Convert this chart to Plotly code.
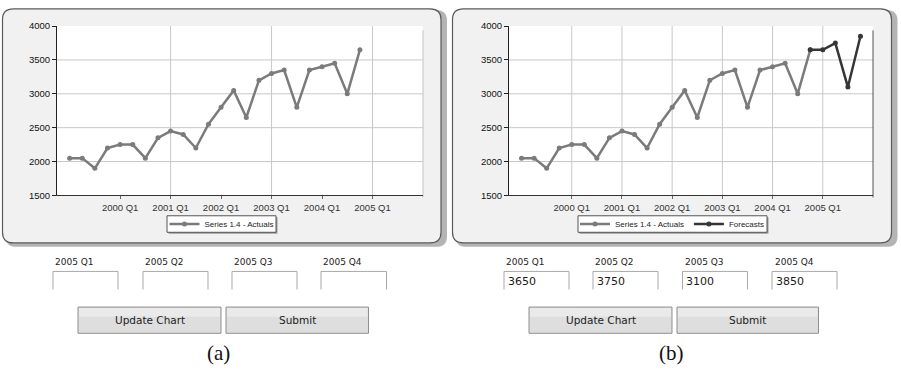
import plotly.graph_objects as go

W, H = 901, 382

# ---------------- data ----------------
actual_periods = ["1999 Q1", "1999 Q2", "1999 Q3", "1999 Q4",
                  "2000 Q1", "2000 Q2", "2000 Q3", "2000 Q4",
                  "2001 Q1", "2001 Q2", "2001 Q3", "2001 Q4",
                  "2002 Q1", "2002 Q2", "2002 Q3", "2002 Q4",
                  "2003 Q1", "2003 Q2", "2003 Q3", "2003 Q4",
                  "2004 Q1", "2004 Q2", "2004 Q3", "2004 Q4"]
actual_values = [2050, 2050, 1900, 2200,
                 2250, 2250, 2050, 2350,
                 2450, 2400, 2200, 2550,
                 2800, 3050, 2650, 3200,
                 3300, 3350, 2800, 3350,
                 3400, 3450, 3000, 3650]
forecast_periods = ["2005 Q1", "2005 Q2", "2005 Q3", "2005 Q4"]
forecast_values = [3650, 3750, 3100, 3850]

x_tick_years = [2000, 2001, 2002, 2003, 2004, 2005]
x_tick_labels = ["2000 Q1", "2001 Q1", "2002 Q1", "2003 Q1", "2004 Q1", "2005 Q1"]
grid_years_a = [2001, 2003, 2005]
grid_years_b = [2000, 2001, 2002, 2003, 2004, 2005]
y_ticks = [1500, 2000, 2500, 3000, 3500, 4000]
y_grid = [2000, 2500, 3000, 3500]
x_range = [1998.75, 2006.0]
y_range = [1500, 4000]

input_labels = ["2005 Q1", "2005 Q2", "2005 Q3", "2005 Q4"]


def to_num(p):
    y, q = p.split(" Q")
    return int(y) + (int(q) - 1) / 4.0


ax = [to_num(p) for p in actual_periods]
fx = [ax[-1]] + [to_num(p) for p in forecast_periods]
fy = [actual_values[-1]] + forecast_values

ACT = "#7b7b7b"
FC = "#363636"


def px(x):
    return x / W


def py(y):
    return 1 - y / H


def rrect(x0, y0, x1, y1, r):
    def f(x, y):
        return f"{px(x):.5f},{py(y):.5f}"
    return (f"M{f(x0 + r, y0)} L{f(x1 - r, y0)} Q{f(x1, y0)} {f(x1, y0 + r)} "
            f"L{f(x1, y1 - r)} Q{f(x1, y1)} {f(x1 - r, y1)} L{f(x0 + r, y1)} "
            f"Q{f(x0, y1)} {f(x0, y1 - r)} L{f(x0, y0 + r)} Q{f(x0, y0)} {f(x0 + r, y0)} Z")


fig = go.Figure()

fig.add_trace(go.Scatter(x=ax, y=actual_values, mode="lines+markers",
                         name="Series 1.4 - Actuals", xaxis="x", yaxis="y",
                         line=dict(color=ACT, width=2.5), showlegend=True,
                         marker=dict(color=ACT, size=5), legend="legend"))
fig.add_trace(go.Scatter(x=ax, y=actual_values, mode="lines+markers",
                         name="Series 1.4 - Actuals", xaxis="x2", yaxis="y2",
                         line=dict(color=ACT, width=2.5), showlegend=True,
                         marker=dict(color=ACT, size=5), legend="legend2"))
fig.add_trace(go.Scatter(x=fx, y=fy, mode="lines+markers",
                         name="Forecasts", xaxis="x2", yaxis="y2",
                         line=dict(color=FC, width=2.5), showlegend=True,
                         marker=dict(color=FC, size=5), legend="legend2"))

shapes = []
annotations = []

# frames with shadows
for (x0, x1) in [(2.5, 441), (452.5, 891.5)]:
    shapes.append(dict(type="path", xref="paper", yref="paper", layer="below",
                       path=rrect(x0 + 3, 4, x1 + 6, 248, 11),
                       fillcolor="#b4b4b4", line=dict(width=0)))
    shapes.append(dict(type="path", xref="paper", yref="paper", layer="below",
                       path=rrect(x0, 3, x1, 244, 11),
                       fillcolor="#f1f1f1", line=dict(color="#5a5a5a", width=1.2)))

# legend boxes
for (l0, l1) in [(167, 276), (578, 767)]:
    shapes.append(dict(type="rect", xref="paper", yref="paper", layer="below",
                       x0=px(l0 + 1.5), x1=px(l1 + 1.5), y0=py(234.5), y1=py(217.5),
                       fillcolor="#9a9a9a", line=dict(width=0)))
    shapes.append(dict(type="rect", xref="paper", yref="paper", layer="below",
                       x0=px(l0), x1=px(l1), y0=py(233), y1=py(216),
                       fillcolor="white", line=dict(color="#555", width=1)))

# plot area backgrounds, gridlines & right border
for xa, ya, gyears, rcol in [("x", "y", grid_years_a, "#c4c4c4"),
                             ("x2", "y2", grid_years_b, "#555555")]:
    shapes.append(dict(type="rect", xref=xa + " domain", yref=ya + " domain", layer="below",
                       x0=0, x1=1, y0=0, y1=1, fillcolor="white", line=dict(width=0)))
    for gx in gyears:
        shapes.append(dict(type="line", xref=xa, yref=ya + " domain", layer="below",
                           x0=gx, x1=gx, y0=0, y1=1,
                           line=dict(color="#c8c8c8", width=1)))
    for gy in y_grid:
        shapes.append(dict(type="line", xref=xa + " domain", yref=ya, layer="below",
                           x0=0, x1=1, y0=gy, y1=gy,
                           line=dict(color="#c8c8c8", width=1)))
    shapes.append(dict(type="line", xref=xa + " domain", yref=ya + " domain", layer="below",
                       x0=1, x1=1, y0=-0.012, y1=0.975,
                       line=dict(color=rcol, width=1)))

# input labels, boxes, buttons, captions
panels = [
    dict(lab_x=[53, 143, 232, 321], box=[(53, 118), (143, 208), (232, 297), (321, 386.5)],
         values=None, btn=[(78, 221), (226, 368.5)], cap="(a)", cap_x=218.5),
    dict(lab_x=[504, 593, 683, 772.5], box=[(504, 569), (593, 658), (682.5, 747.5), (772, 837)],
         values=forecast_values, btn=[(529, 672), (677, 818.5)], cap="(b)", cap_x=671),
]
for p in panels:
    for i, lx in enumerate(p["lab_x"]):
        annotations.append(dict(x=px(lx), y=py(264), xref="paper", yref="paper",
                                text=input_labels[i], showarrow=False,
                                xanchor="left", yanchor="middle",
                                font=dict(family="DejaVu Sans", size=9, color="#222")))
        b0, b1 = p["box"][i]
        shapes.append(dict(type="path", xref="paper", yref="paper",
                           path=f"M{px(b0):.5f},{py(292):.5f} L{px(b0):.5f},{py(273.3):.5f} "
                                f"L{px(b1):.5f},{py(273.3):.5f} L{px(b1):.5f},{py(292):.5f}",
                           line=dict(color="#a9a9a9", width=1)))
        if p["values"] is not None:
            annotations.append(dict(x=px(b0 + 1.5), y=py(283.5), xref="paper", yref="paper",
                                    text=str(p["values"][i]), showarrow=False,
                                    xanchor="left", yanchor="middle",
                                    font=dict(family="DejaVu Sans", size=11, color="#1a1a1a")))
    for j, (b0, b1) in enumerate(p["btn"]):
        shapes.append(dict(type="rect", xref="paper", yref="paper",
                           x0=px(b0), x1=px(b1), y0=py(337), y1=py(310),
                           fillcolor="#dedede", line=dict(color="#8f8f8f", width=1)))
        shapes.append(dict(type="rect", xref="paper", yref="paper",
                           x0=px(b0 + 1), x1=px(b1 - 1), y0=py(320), y1=py(311),
                           fillcolor="#eaeaea", line=dict(width=0)))
        annotations.append(dict(x=px((b0 + b1) / 2), y=py(323.5), xref="paper", yref="paper",
                                text=["Update Chart", "Submit"][j], showarrow=False,
                                xanchor="center", yanchor="middle",
                                font=dict(family="DejaVu Sans", size=10.5, color="#222")))
    annotations.append(dict(x=px(p["cap_x"]), y=py(357), xref="paper", yref="paper",
                            text=p["cap"], showarrow=False, xanchor="center", yanchor="middle",
                            font=dict(family="Liberation Serif", size=21, color="#111")))

top, bot = 20.7, 195
xa_common = dict(range=x_range, tickmode="array", tickvals=x_tick_years, ticktext=x_tick_labels,
                 showgrid=False, zeroline=False, showline=True, linecolor="#333", linewidth=1,
                 ticks="outside", ticklen=3, tickcolor="#666",
                 tickfont=dict(family="Liberation Sans", size=9.5, color="#333"), fixedrange=True)
ya_common = dict(range=y_range, tickmode="array", tickvals=y_ticks,
                 showgrid=False, zeroline=False, showline=True, linecolor="#222", linewidth=1,
                 ticks="outside", ticklen=4, tickcolor="#222",
                 tickfont=dict(family="Liberation Sans", size=9.5, color="#111"), fixedrange=True)

legend_common = dict(orientation="h", yanchor="middle", xanchor="center",
                     bgcolor="rgba(0,0,0,0)", borderwidth=0,
                     font=dict(family="Liberation Sans", size=8, color="#222"),
                     itemwidth=30, tracegroupgap=0)

fig.update_layout(
    width=W, height=H, margin=dict(l=0, r=0, t=0, b=0),
    paper_bgcolor="white", plot_bgcolor="white", showlegend=True,
    xaxis=dict(domain=[px(57), px(423)], anchor="y", **xa_common),
    yaxis=dict(domain=[py(bot), py(top)], anchor="x", **ya_common),
    xaxis2=dict(domain=[px(509), px(873)], anchor="y2", **xa_common),
    yaxis2=dict(domain=[py(bot), py(top)], anchor="x2", **ya_common),
    legend=dict(x=px(221.5), y=py(224.5), **legend_common),
    legend2=dict(x=px(672.5), y=py(224.5), **legend_common),
    shapes=shapes, annotations=annotations,
)

fig.write_html("out.html")
